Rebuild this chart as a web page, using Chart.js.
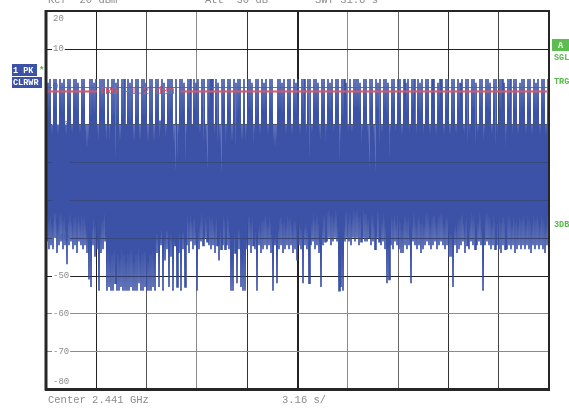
<!DOCTYPE html>
<html><head><meta charset="utf-8">
<script src="https://cdn.jsdelivr.net/npm/chart.js@4/dist/chart.umd.min.js"></script>
<style>html,body{margin:0;padding:0;background:#fff;overflow:hidden}canvas{display:block}</style>
</head><body>
<canvas id="c" width="569" height="410"></canvas>
<script>
// ---- data ----
const sweepTime = 31.6;            // s  (SWT)
const secPerDiv = 3.16;            // s/div
const yTicks = [20,10,0,-10,-20,-30,-40,-50,-60,-70,-80];   // dBm
const trgLevel = -1.2;             // dBm
const headerTexts = ["Ref  20 dBm", "Att  30 dB", "SWT 31.6 s"];
const footerTexts = ["Center 2.441 GHz", "3.16 s/"];
const sideTexts = ["A", "SGL", "TRG", "3DB"];
const traceLabels = ["1 PK", "CLRWR"];
// burst tops (dBm), one per trace pair
const tops = [
 2,1,2,-10,2,2,-10,2,1,2,-10,2,
 2,-10,2,2,1,-10,2,2,-10,-10,2,2,
 1,2,-10,2,2,2,-10,2,-10,2,2,1,
 2,-10,2,2,-10,2,1,2,-10,2,2,-10,
 2,2,1,-10,2,2,-10,2,2,-9,2,1,
 -10,2,2,2,-10,2,-10,2,2,1,-10,2,
 2,-10,2,1,2,-10,2,2,-10,2,2,2,
 -10,2,1,-10,2,2,-10,2,2,-10,2,1,
 2,2,-10,2,-10,2,2,1,-10,2,2,-10,
 2,1,2,-10,2,2,-10,-10,2,2,1,2,
 -10,2,2,-10,2,1,2,-10,2,2,-10,2,
 2,-10,2,2,1,-10,2,2,-10,2,1,2,
 -10,2,2,-10,2,2,1,-10,2,-10,2,2,
 2,1,-10,2,2,-10,2,2,-10,2,1,2,
 -10,2,2,1,-10,2,2,-10,2,2,-10,2,
 1,2,-10,2,2,-10,2,1,2,-10,2,2,
 -10,2,2,-10,1,2,2,-10,2,2,-10,2,
 2,-10,2,1,2,-10,2,2,-10,2,2,1,
 -10,2,2,-10,2,2,1,-10,2,2,-10,2,
 2,1,-10,2,2,-10,2,2,-10,1,2,2,
 -10,2,2,-10,2,1,2,-10,2,2,-10,2
];
// gaps between bursts (dBm), one per trace pair
const lows = [
 -41,-43,-42,-43,-40,-44,-42,-41,-43,-42,
 -47,-42,-41,-43,-42,-44,-41,-42,-43,-42,
 -44,-51,-53,-42,-45,-43,-54,-44,-43,-41,
 -54,-53,-54,-54,-52,-54,-54,-53,-54,-54,
 -54,-54,-53,-54,-54,-54,-52,-54,-54,-53,
 -54,-54,-54,-53,-54,-44,-53,-42,-54,-46,
 -43,-53,-45,-54,-42,-53,-44,-54,-43,-53,
 -42,-44,-41,-43,-42,-54,-43,-41,-42,-40,
 -41,-42,-43,-42,-44,-42,-46,-43,-42,-43,
 -42,-43,-54,-54,-44,-52,-43,-53,-54,-54,
 -43,-42,-44,-42,-43,-54,-42,-44,-43,-42,
 -43,-42,-44,-54,-42,-52,-43,-42,-44,-43,
 -42,-43,-42,-44,-43,-46,-42,-43,-52,-42,
 -43,-52,-42,-41,-43,-42,-44,-53,-42,-41,
 -41,-40,-42,-41,-40,-41,-54,-53,-54,-41,
 -40,-41,-42,-40,-41,-40,-42,-41,-40,-41,
 -41,-40,-42,-41,-43,-40,-41,-42,-41,-43,
 -52,-51,-42,-43,-41,-42,-43,-44,-44,-42,
 -43,-42,-52,-41,-42,-43,-42,-44,-43,-42,
 -41,-42,-43,-42,-41,-43,-42,-41,-42,-43,
 -42,-45,-45,-53,-42,-44,-43,-42,-41,-44,
 -42,-43,-41,-42,-43,-42,-41,-42,-54,-42,
 -41,-42,-43,-42,-43,-42,-43,-44,-42,-43,
 -43,-42,-43,-42,-44,-43,-42,-43,-42,-43,
 -42,-43,-44,-42,-43,-42,-43,-42,-43,-44,-42,-43
];

// ---- build trace ----
const nPts = tops.length * 2;
const trace = [];
for (let j = 0; j < tops.length; j++) {
  trace.push({x: (2*j) * sweepTime / (nPts - 1), y: tops[j]});
  trace.push({x: (2*j+1) * sweepTime / (nPts - 1), y: lows[j]});
}

const MONO = '"Liberation Mono", "DejaVu Sans Mono", monospace';
const BLUE = 'rgb(59,82,166)';
const GREEN = 'rgb(86,186,72)';
const GRAY = '#8c8c8c';
const vGridColors = ['#222','#222','#555','#8a8a8a','#333','#222','#8a8a8a','#666','#333','#444','#222'];
const hGridColors = {10:'#222',0:'#777',"-10":'#555',"-20":'#333',"-30":'#333',"-40":'#333',"-50":'#222',"-60":'#8a8a8a',"-70":'#8a8a8a'};

function drawHGrid(chart, alpha) {
  const {ctx, chartArea: a, scales: {y}} = chart;
  ctx.save();
  ctx.globalAlpha = alpha;
  ctx.font = '9px ' + MONO;
  yTicks.forEach(v => {
    if (v === yTicks[0] || v === yTicks[yTicks.length-1]) return;
    const py = Math.round(y.getPixelForValue(v)) + 0.5;
    const w = ctx.measureText(String(v)).width;
    ctx.strokeStyle = hGridColors[v] || '#555';
    ctx.lineWidth = 1;
    ctx.beginPath();
    ctx.moveTo(a.left, py); ctx.lineTo(a.left + 6, py);
    ctx.moveTo(a.left + 8 + w, py); ctx.lineTo(a.right, py);
    ctx.stroke();
  });
  ctx.restore();
}

const overlay = {
  id: 'overlay',
  beforeDatasetsDraw(chart) {
    const {ctx, chartArea: a, scales: {y}} = chart;
    drawHGrid(chart, 1);
    ctx.save();
    ctx.font = '9px ' + MONO;
    ctx.textBaseline = 'middle';
    ctx.textAlign = 'left';
    yTicks.forEach(v => {
      let py = y.getPixelForValue(v);
      py = Math.min(Math.max(py, a.top + 8), a.bottom - 7);
      ctx.fillStyle = GRAY;
      ctx.fillText(String(v), a.left + 7, py);
    });
    ctx.restore();
  },
  afterDatasetsDraw(chart) {
    const {ctx, chartArea: a, scales: {y}} = chart;
    drawHGrid(chart, 0.35);
    ctx.save();
    // trigger line
    const ty = Math.round(y.getPixelForValue(trgLevel)) + 0.5;
    ctx.font = '10.5px ' + MONO;
    const trgText = 'TRG -1.2 dBm';
    const tx = a.left + 53;
    const tw = ctx.measureText(trgText).width;
    ctx.strokeStyle = 'rgb(222,84,96)';
    ctx.lineWidth = 2;
    ctx.beginPath();
    ctx.moveTo(a.left, ty); ctx.lineTo(tx - 2, ty);
    ctx.moveTo(tx + tw + 6, ty); ctx.lineTo(a.right, ty);
    ctx.stroke();
    ctx.fillStyle = 'rgb(222,84,96)';
    ctx.textBaseline = 'middle';
    ctx.fillText(trgText, tx, ty);
    // frame
    ctx.strokeStyle = '#262626';
    ctx.lineWidth = 2;
    ctx.strokeRect(a.left, a.top, a.right - a.left, a.bottom - a.top);
    ctx.lineWidth = 3;
    ctx.beginPath();
    ctx.moveTo(a.left, a.top - 1); ctx.lineTo(a.left, a.bottom + 1.5);
    ctx.moveTo(a.left - 1, a.bottom + 0.5); ctx.lineTo(a.right + 1, a.bottom + 0.5);
    ctx.stroke();
    ctx.restore();
  },
  afterDraw(chart) {
    const {ctx} = chart;
    ctx.save();
    ctx.font = '10.5px ' + MONO;
    ctx.textBaseline = 'alphabetic';
    ctx.textAlign = 'left';
    ctx.fillStyle = GRAY;
    ctx.fillText(headerTexts[0], 48, 3);
    ctx.fillText(headerTexts[1], 205, 3);
    ctx.fillText(headerTexts[2], 315, 3);
    ctx.fillStyle = GREEN;
    ctx.fillText('*', 196, 3);
    ctx.fillStyle = GRAY;
    ctx.textBaseline = 'middle';
    ctx.fillText(footerTexts[0], 48, 400);
    ctx.fillText(footerTexts[1], 282, 400);
    // trace label boxes
    ctx.fillStyle = BLUE;
    ctx.fillRect(12, 64, 25, 12);
    ctx.fillRect(12, 77, 30, 11);
    ctx.font = 'bold 8.5px ' + MONO;
    ctx.fillStyle = '#fff';
    ctx.fillText(traceLabels[0], 13, 70.5);
    ctx.fillText(traceLabels[1], 13, 83);
    ctx.fillStyle = GREEN;
    ctx.font = 'bold 9px ' + MONO;
    ctx.fillText('*', 39, 71);
    // right side
    ctx.fillStyle = 'rgb(92,190,80)';
    ctx.fillRect(552, 39, 17, 12);
    ctx.fillStyle = '#fff';
    ctx.font = 'bold 8.5px ' + MONO;
    ctx.fillText(sideTexts[0], 558, 45.5);
    ctx.fillStyle = GREEN;
    ctx.fillText(sideTexts[1], 554, 57.5);
    ctx.fillText(sideTexts[2], 554, 81.5);
    ctx.fillText(sideTexts[3], 554, 225);
    ctx.restore();
  }
};

new Chart(document.getElementById('c'), {
  type: 'line',
  data: {
    datasets: [{
      data: trace,
      borderColor: BLUE,
      borderWidth: 1.6,
      pointRadius: 0,
      tension: 0,
      fill: false
    }]
  },
  options: {
    responsive: false,
    devicePixelRatio: 1,
    animation: false,
    events: [],
    layout: {padding: {left: 46, top: 11, right: 20, bottom: 21}},
    plugins: {legend: {display: false}, tooltip: {enabled: false}},
    scales: {
      x: {
        type: 'linear', min: 0, max: sweepTime,
        afterBuildTicks: ax => { ax.ticks = Array.from({length: 11}, (_, k) => ({value: k * secPerDiv})); },
        ticks: {display: false},
        border: {display: false},
        grid: {drawTicks: false, lineWidth: c => (c.index === 5 ? 2 : 1), color: c => vGridColors[c.index] || '#444'}
      },
      y: {
        type: 'linear', min: yTicks[yTicks.length-1], max: yTicks[0],
        afterBuildTicks: ax => { ax.ticks = yTicks.map(v => ({value: v})); },
        ticks: {display: false},
        border: {display: false},
        grid: {display: false, drawTicks: false}
      }
    }
  },
  plugins: [overlay]
});
</script>
</body></html>
